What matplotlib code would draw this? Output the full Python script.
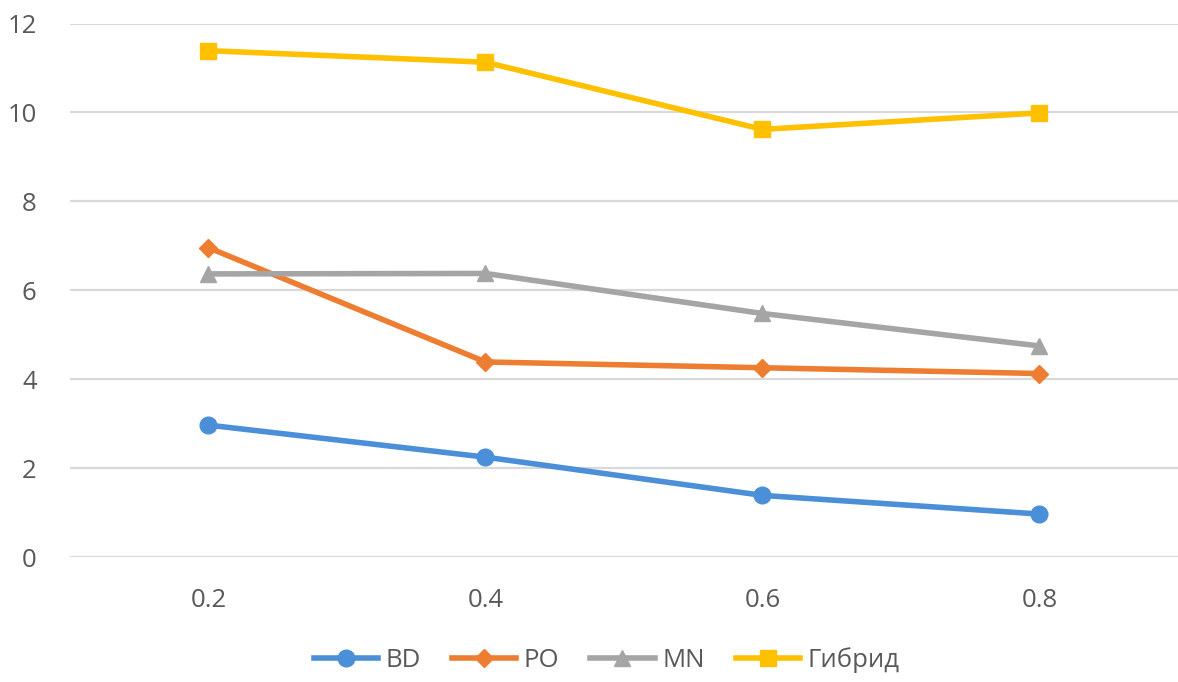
import matplotlib

matplotlib.use("Agg")
matplotlib.rcParams["font.family"] = ["Open Sans", "DejaVu Sans"]
import matplotlib.pyplot as plt

categories = ["0.2", "0.4", "0.6", "0.8"]
bd = [2.97, 2.25, 1.39, 0.97]
po = [6.96, 4.39, 4.26, 4.13]
mn = [6.37, 6.38, 5.48, 4.75]
gibrid = [11.39, 11.13, 9.62, 9.99]
y_ticks = [0, 2, 4, 6, 8, 10, 12]

series = [
    ("BD", bd, "#4A8FD8", "o", 12),
    ("PO", po, "#ED7D31", "D", 9),
    ("MN", mn, "#A5A5A5", "^", 12),
    ("Гибрид", gibrid, "#FFC000", "s", 11),
]

fig = plt.figure(figsize=(11.78, 6.82), dpi=100)
ax = fig.add_axes([0.0594, 0.183, 0.9406, 0.7825])

x = list(range(len(categories)))
for name, vals, color, marker, ms in series:
    ax.plot(x, vals, color=color, lw=4, marker=marker, markersize=ms,
            label=name, solid_joinstyle="round")

ax.set_xlim(-0.5, len(categories) - 0.5)
ax.set_ylim(0, 12)
ax.set_xticks(x)
ax.set_xticklabels(categories)
ax.set_yticks(y_ticks)
ax.yaxis.grid(True, color="#D9D9D9", lw=1.6)
ax.set_axisbelow(True)
for s in ax.spines.values():
    s.set_visible(False)
ax.tick_params(length=0, labelsize=18.5, colors="#595959")
ax.tick_params(axis="y", pad=24)
ax.tick_params(axis="x", pad=22)

# легенда под графиком, в одну строку
fig.legend(loc="lower center", bbox_to_anchor=(0.515, -0.02), ncol=4,
           frameon=False, fontsize=18.5, labelcolor="#595959",
           handlelength=2.5, handletextpad=0.3, columnspacing=1.2)

fig.savefig("out.png", dpi=100)
